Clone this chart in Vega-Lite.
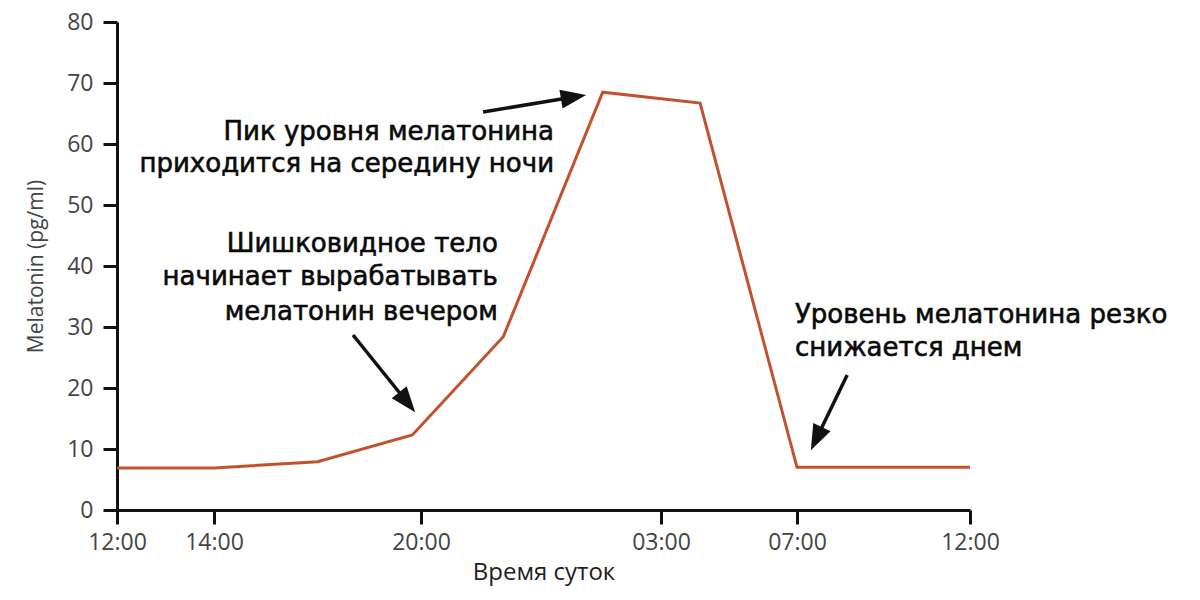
{
  "$schema": "https://vega.github.io/schema/vega-lite/v6.json",
  "width": 853,
  "height": 488,
  "autosize": {"type": "none"},
  "padding": {"left": 117, "top": 22, "right": 230, "bottom": 90},
  "background": "white",
  "config": {
    "view": {"stroke": null},
    "axis": {
      "grid": false,
      "domainColor": "#111111",
      "domainWidth": 3,
      "tickColor": "#111111",
      "tickWidth": 3,
      "tickSize": 14,
      "labelFont": "Open Sans",
      "labelFontSize": 23,
      "labelColor": "#444444",
      "titleFont": "Open Sans",
      "titleFontWeight": "normal"
    }
  },
  "datasets": {
    "melatonin": [
      {"hour": 0, "value": 6.9},
      {"hour": 2, "value": 6.9},
      {"hour": 5, "value": 7.9},
      {"hour": 7.75, "value": 12.3},
      {"hour": 10.4, "value": 28.4},
      {"hour": 13.3, "value": 68.5},
      {"hour": 16.15, "value": 66.7},
      {"hour": 19, "value": 7.0},
      {"hour": 24, "value": 7.0}
    ],
    "arrows": [
      {"hour": 9.81, "value": 65.25, "hour2": 12.45, "value2": 67.7, "angle": 80.6},
      {"hour": 6.03, "value": 28.69, "hour2": 7.6, "value2": 17.66, "angle": 141.2},
      {"hour": 20.45, "value": 22.13, "hour2": 19.56, "value2": 11.69, "angle": 205.7}
    ],
    "notes": [
      {"hour": 11.88, "value": 60.66, "text": "Пик уровня мелатонина", "align": "right"},
      {"hour": 11.88, "value": 55.41, "text": "приходится на середину ночи", "align": "right"},
      {"hour": 10.24, "value": 42.3, "text": "Шишковидное тело", "align": "right"},
      {"hour": 10.24, "value": 36.89, "text": "начинает вырабатывать", "align": "right"},
      {"hour": 10.24, "value": 31.15, "text": "мелатонин вечером", "align": "right"},
      {"hour": 18.94, "value": 30.66, "text": "Уровень мелатонина резко", "align": "left"},
      {"hour": 18.94, "value": 25.25, "text": "снижается днем", "align": "left"}
    ]
  },
  "layer": [
    {
      "data": {"name": "melatonin"},
      "mark": {"type": "line", "color": "#c2512e", "strokeWidth": 3},
      "encoding": {
        "x": {
          "field": "hour",
          "type": "quantitative",
          "title": "Время суток",
          "scale": {"domain": [0, 2, 8, 15, 19, 24], "range": [0, 97, 304, 544, 680, 853], "nice": false, "zero": false},
          "axis": {
            "values": [0, 2, 8, 15, 19, 24],
            "labelExpr": "(((12+datum.value)%24)<10?'0':'')+((12+datum.value)%24)+':00'",
            "labelFlush": false,
            "labelOverlap": false,
            "labelPadding": 7,
            "titleFontSize": 24,
            "titleColor": "#1e1e1e",
            "titlePadding": 6
          }
        },
        "y": {
          "field": "value",
          "type": "quantitative",
          "title": "Melatonin (pg/ml)",
          "scale": {"domain": [0, 80], "nice": false, "zero": true},
          "axis": {
            "values": [0, 10, 20, 30, 40, 50, 60, 70, 80],
            "labelPadding": 10,
            "titleFontSize": 21,
            "titleColor": "#444444",
            "titlePadding": 20
          }
        }
      }
    },
    {
      "data": {"name": "arrows"},
      "mark": {"type": "rule", "color": "#111111", "strokeWidth": 3.5},
      "encoding": {
        "x": {"field": "hour", "type": "quantitative", "title": "Время суток"},
        "y": {"field": "value", "type": "quantitative", "title": "Melatonin (pg/ml)"},
        "x2": {"field": "hour2"},
        "y2": {"field": "value2"}
      }
    },
    {
      "data": {"name": "arrows"},
      "mark": {"type": "point", "shape": "M0,-1L0.75,1L-0.75,1Z", "filled": true, "color": "#111111", "opacity": 1, "size": 650},
      "encoding": {
        "x": {"field": "hour2", "type": "quantitative", "title": "Время суток"},
        "y": {"field": "value2", "type": "quantitative", "title": "Melatonin (pg/ml)"},
        "angle": {"field": "angle", "type": "quantitative", "scale": null}
      }
    },
    {
      "data": {"name": "notes"},
      "transform": [{"filter": "datum.align == 'right'"}],
      "mark": {"type": "text", "font": "DejaVu Sans", "fontSize": 26, "color": "#0a0a0a", "stroke": "#0a0a0a", "strokeWidth": 0.6, "baseline": "alphabetic", "align": "right"},
      "encoding": {
        "x": {"field": "hour", "type": "quantitative", "title": "Время суток"},
        "y": {"field": "value", "type": "quantitative", "title": "Melatonin (pg/ml)"},
        "text": {"field": "text"}
      }
    },
    {
      "data": {"name": "notes"},
      "transform": [{"filter": "datum.align == 'left'"}],
      "mark": {"type": "text", "font": "DejaVu Sans", "fontSize": 26, "color": "#0a0a0a", "stroke": "#0a0a0a", "strokeWidth": 0.6, "baseline": "alphabetic", "align": "left"},
      "encoding": {
        "x": {"field": "hour", "type": "quantitative", "title": "Время суток"},
        "y": {"field": "value", "type": "quantitative", "title": "Melatonin (pg/ml)"},
        "text": {"field": "text"}
      }
    }
  ]
}
